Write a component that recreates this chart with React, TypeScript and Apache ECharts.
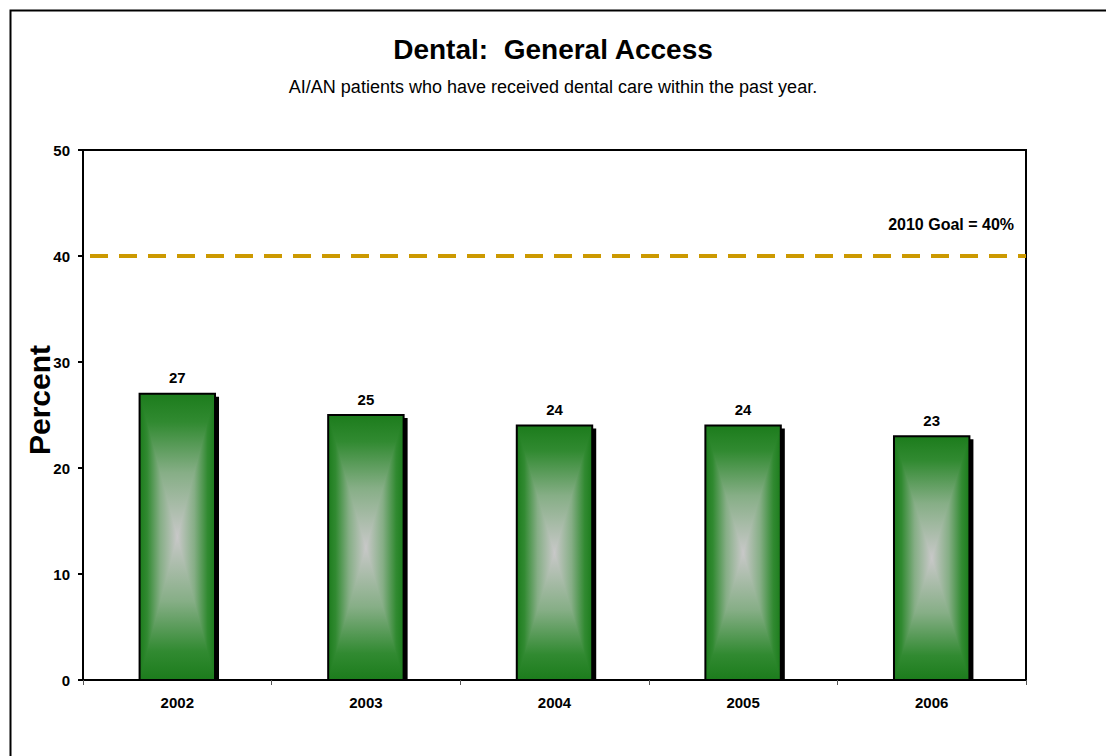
import React, { useEffect, useRef } from "react";
import * as echarts from "echarts";

const years = ["2002", "2003", "2004", "2005", "2006"];
const percent = [27, 25, 24, 24, 23];
const goalValue = 40;
const goalLabel = "2010 Goal = 40%";
const yMin = 0;
const yMax = 50;
const yInterval = 10;

const titleText = "Dental:  General Access";
const subtitleText = "AI/AN patients who have received dental care within the past year.";
const yAxisName = "Percent";

const FONT = 'Arial, "Liberation Sans", Helvetica, sans-serif';
const GREEN = "#1c7c1c";
const MID1 = "#318a31";
const MID2 = "#86ae86";
const CENTER = "#c8c8c8";

const stops = [
  { offset: 0, color: GREEN },
  { offset: 0.2, color: MID1 },
  { offset: 0.55, color: MID2 },
  { offset: 1, color: CENTER },
];

function grad(x2: number, y2: number, reverse: boolean) {
  return {
    type: "linear",
    x: reverse ? x2 : 0,
    y: reverse ? y2 : 0,
    x2: reverse ? 0 : x2,
    y2: reverse ? 0 : y2,
    global: false,
    colorStops: stops,
  };
}

function hgrad() {
  return {
    type: "linear",
    x: 0,
    y: 0,
    x2: 1,
    y2: 0,
    global: false,
    colorStops: [
      { offset: 0, color: GREEN },
      { offset: 0.1, color: MID1 },
      { offset: 0.275, color: MID2 },
      { offset: 0.5, color: CENTER },
      { offset: 0.725, color: MID2 },
      { offset: 0.9, color: MID1 },
      { offset: 1, color: GREEN },
    ],
  };
}

export default function App() {
  const ref = useRef<HTMLDivElement>(null);

  useEffect(() => {
    if (!ref.current) return;
    const chart = echarts.init(ref.current, null, { renderer: "svg" });

    const renderItem = (params: any, api: any) => {
      const cat = api.value(0);
      const val = api.value(1);
      const top = api.coord([cat, val]);
      const base = api.coord([cat, 0]);
      const band = api.size([1, 0])[0];
      const w = band * 0.4;
      const x0 = top[0] - w / 2;
      const x1 = top[0] + w / 2;
      const y0 = top[1];
      const y1 = base[1];
      const cx = top[0];
      const cy = (y0 + y1) / 2;
      return {
        type: "group",
        children: [
          {
            type: "rect",
            shape: { x: x0 + 4, y: y0 + 3, width: w, height: y1 - y0 - 3 },
            style: { fill: "#000" },
          },
          {
            type: "rect",
            shape: { x: x0, y: y0, width: w, height: y1 - y0 },
            style: { fill: hgrad() },
          },
          {
            type: "polygon",
            shape: { points: [[x0, y0], [x1, y0], [cx, cy]] },
            style: { fill: grad(0, 1, false) },
          },
          {
            type: "polygon",
            shape: { points: [[x0, y1], [x1, y1], [cx, cy]] },
            style: { fill: grad(0, 1, true) },
          },
          {
            type: "rect",
            shape: { x: x0, y: y0, width: w, height: y1 - y0 },
            style: { fill: "none", stroke: "#000", lineWidth: 2 },
          },
          {
            type: "text",
            x: cx,
            y: y0 - 16,
            style: {
              text: String(val),
              fill: "#000",
              font: `bold 15px ${FONT}`,
              align: "center",
              verticalAlign: "middle",
            },
          },
        ],
      };
    };

    chart.setOption({
      animation: false,
      backgroundColor: "#fff",
      textStyle: { fontFamily: FONT },
      title: [
        {
          text: titleText,
          left: "center",
          top: 30,
          textStyle: { fontSize: 28, fontWeight: "bold", color: "#000", fontFamily: FONT },
        },
        {
          text: subtitleText,
          left: "center",
          top: 73,
          textStyle: { fontSize: 18, fontWeight: "normal", color: "#000", fontFamily: FONT },
        },
      ],
      graphic: [
        {
          type: "rect",
          left: 8,
          top: 8,
          shape: { x: 0, y: 0, width: 1200, height: 900 },
          style: { fill: "none", stroke: "#000", lineWidth: 2 },
          silent: true,
          z: -1,
        },
        {
          type: "text",
          right: 92,
          top: 216,
          style: { text: goalLabel, fill: "#000", font: `bold 16px ${FONT}` },
        },
      ],
      grid: {
        left: 83,
        top: 150,
        right: 80,
        bottom: 76,
        show: true,
        borderColor: "#000",
        borderWidth: 2,
        backgroundColor: "transparent",
      },
      xAxis: {
        type: "category",
        data: years,
        boundaryGap: true,
        axisLine: { show: true, lineStyle: { color: "#000", width: 2 } },
        axisTick: { show: true, interval: 0, length: 5, lineStyle: { color: "#555", width: 1 } },
        axisLabel: { color: "#000", fontWeight: "bold", fontSize: 15, margin: 15, fontFamily: FONT },
        splitLine: { show: false },
      },
      yAxis: {
        type: "value",
        min: yMin,
        max: yMax,
        interval: yInterval,
        name: yAxisName,
        nameLocation: "middle",
        nameGap: 29,
        nameMoveOverlap: false,
        nameRotate: 90,
        nameTextStyle: {
          fontSize: 30,
          fontWeight: "bold",
          color: "#000",
          fontFamily: FONT,
          padding: [0, 0, 0, 30],
        },
        axisLine: { show: true, lineStyle: { color: "#000", width: 2 } },
        axisTick: { show: true, length: 5, lineStyle: { color: "#000", width: 2 } },
        axisLabel: { color: "#000", fontWeight: "bold", fontSize: 15, margin: 13, fontFamily: FONT },
        splitLine: { show: false },
      },
      series: [
        {
          type: "custom",
          renderItem,
          encode: { x: 0, y: 1 },
          data: years.map((y, i) => [i, percent[i]]),
          clip: false,
          markLine: {
            silent: true,
            symbol: ["none", "none"],
            label: { show: false },
            lineStyle: { color: "#cc9900", width: 4, type: [18, 11], dashOffset: 22 },
            data: [{ yAxis: goalValue }],
          },
        },
      ],
    });

    return () => chart.dispose();
  }, []);

  return (
    <div
      ref={ref}
      style={{ position: "fixed", left: 0, top: 0, width: 1106, height: 756 }}
    />
  );
}
